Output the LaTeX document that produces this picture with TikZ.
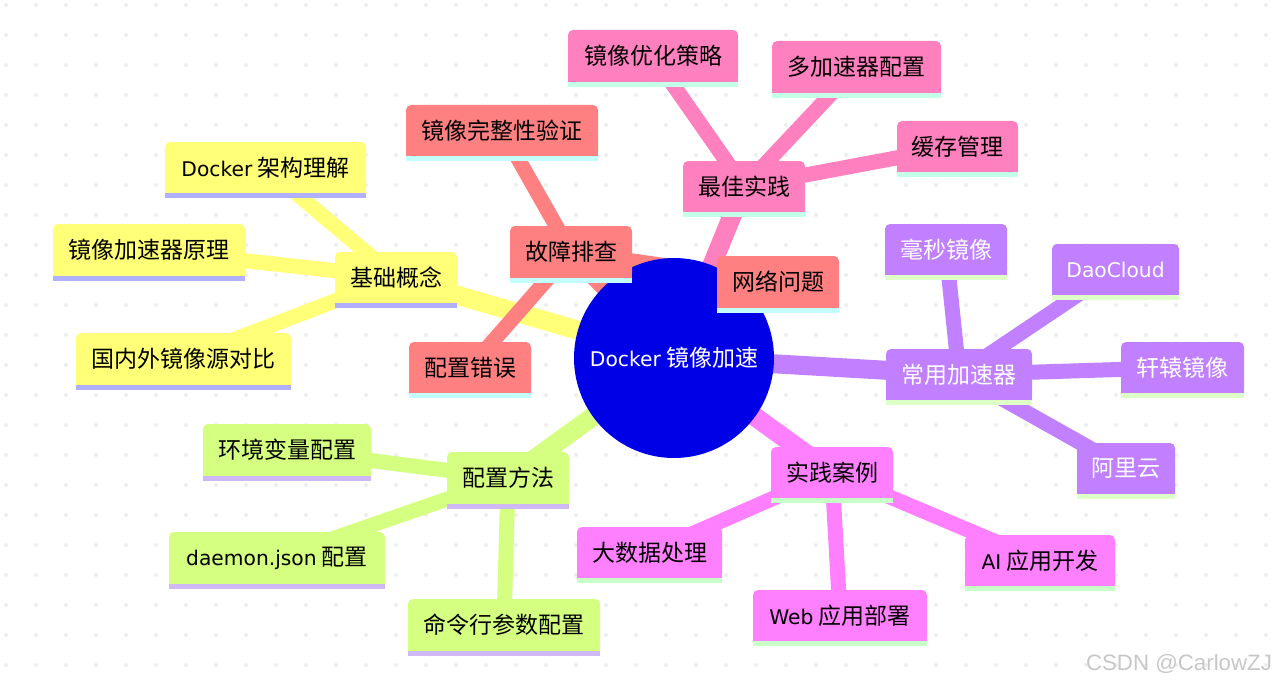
\documentclass[tikz,border=0pt]{standalone}
\usepackage{fontspec}
\setmainfont{Noto Sans CJK SC}
\newfontfamily\en[Scale=0.88]{DejaVu Sans}
\newfontfamily\stampfont{Liberation Sans}
\definecolor{Root}{RGB}{0, 0, 230}
\definecolor{Yel}{RGB}{255, 255, 120}
\definecolor{YelStrip}{RGB}{176, 176, 255}
\definecolor{Red}{RGB}{255, 128, 128}
\definecolor{RedStrip}{RGB}{196, 255, 255}
\definecolor{Pnk}{RGB}{255, 128, 190}
\definecolor{PnkStrip}{RGB}{196, 255, 232}
\definecolor{Pur}{RGB}{192, 128, 255}
\definecolor{PurStrip}{RGB}{222, 255, 200}
\definecolor{Mag}{RGB}{255, 128, 255}
\definecolor{MagStrip}{RGB}{200, 255, 200}
\definecolor{Lim}{RGB}{212, 255, 128}
\definecolor{LimStrip}{RGB}{208, 184, 245}
\pgfdeclarelayer{grid}
\pgfdeclarelayer{links}
\pgfsetlayers{grid,links,main}
\tikzset{
    mapbox/.style={inner sep=0pt, rounded corners=3.75pt, font=\fontsize{17.25pt}{20pt}\selectfont},
    rootbox/.style={circle, inner sep=0pt, minimum size=150pt, fill=Root, text=white, font=\fontsize{17.25pt}{20pt}\selectfont},
}
\begin{document}
\begin{tikzpicture}[x=0.75pt,y=-0.75pt]
    \useasboundingbox (0,0) rectangle (1275,685);
    \begin{pgfonlayer}{grid}
    \foreach \x in {6,36,...,1266}
    \foreach \y in {5,35,...,665}
    {
    \fill[black!7] (\x,\y) circle (1.5pt);
    }
    \end{pgfonlayer}
    \node[rootbox] (root) at (674,358) {{\en Docker} 镜像加速};
    % name/left/top/right/bottom/fill/strip/ink/label
    \foreach \nm/\xl/\yt/\xr/\yb/\col/\stripcol/\ink/\lab in {
    basics/335/252/457/308/Yel/YelStrip/black/{基础概念},
    arch/165/142/366/198/Yel/YelStrip/black/{{\en Docker} 架构理解},
    principle/53/224/245/281/Yel/YelStrip/black/{镜像加速器原理},
    sources/76/333/291/390/Yel/YelStrip/black/{国内外镜像源对比},
    trouble/510/226/632/283/Red/RedStrip/black/{故障排查},
    verify/406/105/598/161/Red/RedStrip/black/{镜像完整性验证},
    badconf/409/342/531/398/Red/RedStrip/black/{配置错误},
    network/717/256/839/313/Red/RedStrip/black/{网络问题},
    best/683/161/805/217/Pnk/PnkStrip/black/{最佳实践},
    optimize/568/30/738/87/Pnk/PnkStrip/black/{镜像优化策略},
    multi/772/41/941/98/Pnk/PnkStrip/black/{多加速器配置},
    cache/897/121/1018/177/Pnk/PnkStrip/black/{缓存管理},
    mirrors/886/349/1032/405/Pur/PurStrip/white/{常用加速器},
    milli/885/224/1007/280/Pur/PurStrip/white/{毫秒镜像},
    dao/1052/244/1179/300/Pur/PurStrip/white/{{\en DaoCloud}},
    xuanyuan/1121/342/1244/398/Pur/PurStrip/white/{轩辕镜像},
    aliyun/1077/443/1175/499/Pur/PurStrip/white/{阿里云},
    cases/771/447/893/503/Mag/MagStrip/black/{实践案例},
    bigdata/577/527/722/583/Mag/MagStrip/black/{大数据处理},
    webapp/753/590/927/646/Mag/MagStrip/black/{{\en Web} 应用部署},
    aiapp/965/535/1115/591/Mag/MagStrip/black/{{\en AI} 应用开发},
    config/447/452/569/509/Lim/LimStrip/black/{配置方法},
    envvar/203/424/371/481/Lim/LimStrip/black/{环境变量配置},
    daemon/169/532/385/589/Lim/LimStrip/black/{{\en daemon.json} 配置},
    cmdline/408/599/600/656/Lim/LimStrip/black/{命令行参数配置}%
    }
    {
    \node[mapbox, fill=\col, text=\ink, minimum width={(\xr-\xl)*0.75pt}, minimum height={(\yb-\yt-5)*0.75pt}] (\nm) at ({(\xl+\xr)/2},{(\yt+\yb-5)/2}) {\lab};
    \fill[\col] (\xl,\yb-5) rectangle (\xr,\yb-11);
    \fill[\stripcol] (\xl,\yb-5) rectangle (\xr,\yb);
    }
    \begin{pgfonlayer}{links}
    % from/to/colour/width
    \foreach \from/\to/\col/\lw in {
    root/basics/Yel/19, root/trouble/Red/19, root/best/Pnk/19,
    root/mirrors/Pur/19, root/cases/Mag/19, root/config/Lim/19,
    basics/arch/Yel/15, basics/principle/Yel/15, basics/sources/Yel/15,
    trouble/verify/Red/15, trouble/badconf/Red/15, trouble/network/Red/15,
    best/optimize/Pnk/15, best/multi/Pnk/15, best/cache/Pnk/15,
    mirrors/milli/Pur/15, mirrors/dao/Pur/15, mirrors/xuanyuan/Pur/15, mirrors/aliyun/Pur/15,
    cases/bigdata/Mag/15, cases/webapp/Mag/15, cases/aiapp/Mag/15,
    config/envvar/Lim/15, config/daemon/Lim/15, config/cmdline/Lim/15%
    }
    {
    \draw[\col, line width=\lw*0.75pt] (\from.center) to (\to.center);
    }
    \end{pgfonlayer}
    \node[text=black!22, font=\stampfont\fontsize{16.7pt}{20pt}\selectfont, inner sep=0pt] (stamp) at (1179,664) {CSDN @CarlowZJ};
\end{tikzpicture}
\end{document}
